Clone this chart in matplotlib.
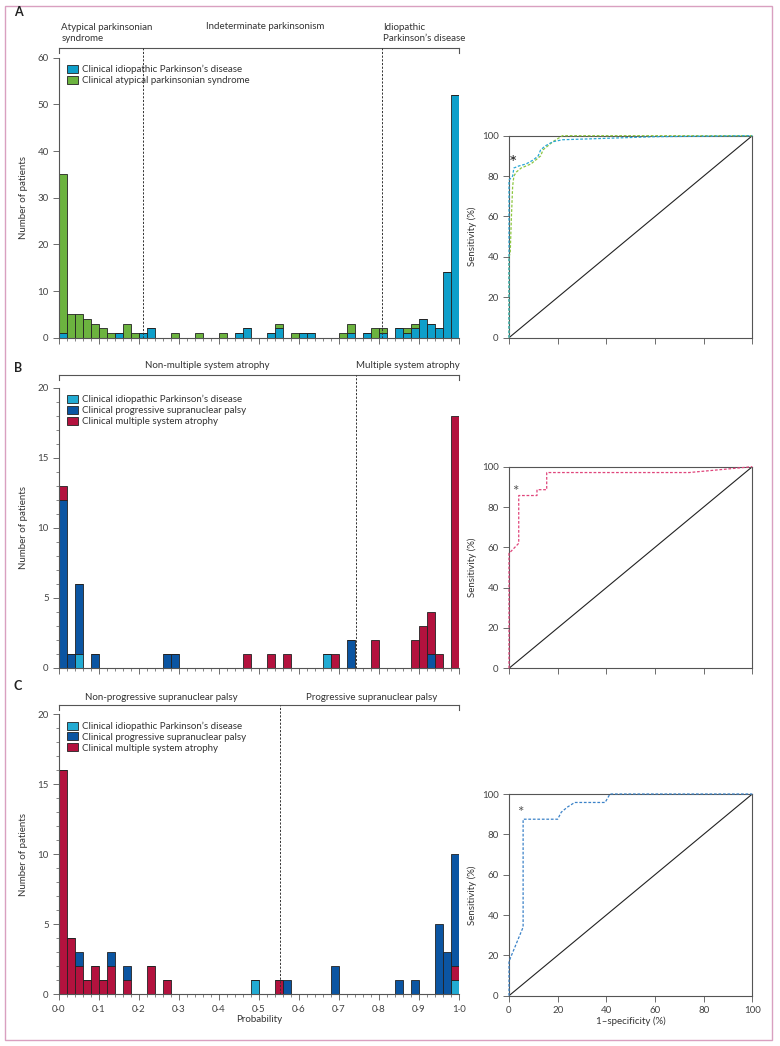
import numpy as np
import matplotlib
matplotlib.use("Agg")
import matplotlib.pyplot as plt
from matplotlib.patches import Patch, Rectangle

plt.rcParams['font.family'] = ['Lato', 'DejaVu Sans']
plt.rcParams['font.size'] = 6.5
plt.rcParams['text.color'] = '#333333'

# ---- histogram data: 50 bins of width 0.02 over the probability 0..1 ----
bin_edges = np.linspace(0, 1, 51)

# panel A: idiopathic PD vs atypical parkinsonian syndrome
a_pd = [1, 0, 0, 0, 0, 0, 0, 1, 0, 0, 1, 2, 0, 0, 0, 0, 0, 0, 0, 0,
        0, 0, 1, 2, 0, 0, 1, 2, 0, 0, 1, 1, 0, 0, 0, 0, 1, 0, 1, 0,
        1, 0, 2, 1, 2, 4, 3, 2, 14, 52]
a_aps = [34, 5, 5, 4, 3, 2, 1, 0, 3, 1, 0, 0, 0, 0, 1, 0, 0, 1, 0, 0,
         1, 0, 0, 0, 0, 0, 0, 1, 0, 1, 0, 0, 0, 0, 0, 1, 2, 0, 0, 2,
         1, 0, 0, 1, 1, 0, 0, 0, 0, 0]

# panel B: multiple system atrophy classifier
b_pd = [0, 0, 1, 0, 0, 0, 0, 0, 0, 0, 0, 0, 0, 0, 0, 0, 0, 0, 0, 0,
        0, 0, 0, 0, 0, 0, 0, 0, 0, 0, 0, 0, 0, 1, 0, 0, 0, 0, 0, 0,
        0, 0, 0, 0, 0, 0, 0, 0, 0, 0]
b_psp = [12, 1, 5, 0, 1, 0, 0, 0, 0, 0, 0, 0, 0, 1, 1, 0, 0, 0, 0, 0,
         0, 0, 0, 0, 0, 0, 0, 0, 0, 0, 0, 0, 0, 0, 0, 0, 2, 0, 0, 0,
         0, 0, 0, 0, 0, 0, 1, 0, 0, 0]
b_msa = [1, 0, 0, 0, 0, 0, 0, 0, 0, 0, 0, 0, 0, 0, 0, 0, 0, 0, 0, 0,
         0, 0, 0, 1, 0, 0, 1, 0, 1, 0, 0, 0, 0, 0, 1, 0, 0, 0, 0, 2,
         0, 0, 0, 0, 2, 3, 3, 1, 0, 18]

# panel C: progressive supranuclear palsy classifier
c_pd = [0, 0, 0, 0, 0, 0, 0, 0, 0, 0, 0, 0, 0, 0, 0, 0, 0, 0, 0, 0,
        0, 0, 0, 0, 1, 0, 0, 0, 0, 0, 0, 0, 0, 0, 0, 0, 0, 0, 0, 0,
        0, 0, 0, 0, 0, 0, 0, 0, 0, 1]
c_msa = [16, 4, 2, 1, 2, 1, 2, 0, 1, 0, 0, 2, 0, 1, 0, 0, 0, 0, 0, 0,
         0, 0, 0, 0, 0, 0, 0, 1, 0, 0, 0, 0, 0, 0, 0, 0, 0, 0, 0, 0,
         0, 0, 0, 0, 0, 0, 0, 0, 0, 1]
c_psp = [0, 0, 1, 0, 0, 0, 1, 0, 1, 0, 0, 0, 0, 0, 0, 0, 0, 0, 0, 0,
         0, 0, 0, 0, 0, 0, 0, 0, 1, 0, 0, 0, 0, 0, 2, 0, 0, 0, 0, 0,
         0, 0, 1, 0, 1, 0, 0, 5, 3, 8]

# ---- ROC curves (1-specificity %, sensitivity %) ----
roc_a1_x = [0, 0, 0.5, 1, 1.5, 2, 3, 5, 7, 9, 11, 13, 14, 16, 18, 22, 100]
roc_a1_y = [0, 40, 42, 60, 75, 80, 82, 84, 85, 86, 88, 90, 93, 95, 97, 100, 100]
roc_a2_x = [0, 0, 1.5, 2, 4, 7, 10, 12, 13, 15, 18, 22, 60, 100]
roc_a2_y = [0, 78, 80, 84, 85, 86, 88, 90, 93, 95, 97, 98, 99.5, 100]
roc_b_x = [0, 0, 4, 4, 11.5, 11.5, 15.5, 15.5, 74, 100]
roc_b_y = [0, 57, 62, 85.7, 85.7, 88.6, 88.6, 97.1, 97.1, 100]
roc_c_x = [0, 0, 5.8, 5.8, 20, 21.5, 24, 27, 39.5, 41.5, 100]
roc_c_y = [0, 17, 34, 87.5, 87.5, 91, 93.5, 95.8, 95.8, 100, 100]
star_a = (1.5, 86)
star_b = (2.7, 87.6)
star_c = (4.8, 90.4)

# colours
col_pd_a = '#0e9fca'
col_pd_bc = '#22abd3'
col_aps = '#6cb33f'
col_psp = '#0b55a2'
col_msa = '#b3123e'
grey = '#555555'

W, H = 780, 1046
fig = plt.figure(figsize=(W / 100, H / 100), dpi=100)


def add_ax(l, t, r, b):
    return fig.add_axes([l / W, 1 - b / H, (r - l) / W, (b - t) / H])


def style(ax):
    for s in ax.spines.values():
        s.set_color(grey)
        s.set_linewidth(0.8)
    ax.tick_params(which='major', length=4, width=0.6, color=grey,
                   labelcolor='#444444', labelsize=7)
    ax.tick_params(which='minor', length=2, width=0.5, color=grey)


def hist_panel(box, stacks, ymax, ystep, minor, brackets, dashes, headers,
               legend_items, xlabels=False):
    l, t, r, b = box
    ax = add_ax(l, t, r, b)
    style(ax)
    ax.spines['top'].set_visible(False)
    ax.spines['right'].set_visible(False)
    width = np.diff(bin_edges)
    bottom = np.zeros(50)
    for vals, col in stacks:
        vals = np.array(vals, dtype=float)
        ax.bar(bin_edges[:-1], vals, width=width, bottom=bottom, align='edge',
               color=col, edgecolor='#222222', linewidth=0.6)
        bottom += vals
    ax.set_xlim(0, 1)
    ax.set_ylim(0, ymax)
    ax.set_yticks(np.arange(0, ymax + 1, ystep))
    if minor:
        ax.set_yticks(np.arange(0, ymax + 1, 1), minor=True)
    ax.set_xticks(np.arange(0, 1.01, 0.1))
    ax.set_xticks(np.arange(0, 1.001, 0.02), minor=True)
    if xlabels:
        ax.set_xticklabels([f"{v:.1f}".replace('.', '\u00b7') for v in np.arange(0, 1.01, 0.1)])
        ax.set_xlabel('Probability', fontsize=7, labelpad=1, color='#333333')
    else:
        ax.set_xticklabels([])
    ax.set_ylabel('Number of patients', fontsize=7, color='#333333')
    ax.yaxis.set_label_coords((28 - l) / (r - l), 0.5)

    hpx = b - t
    yb = 1 + (t - brackets) / hpx
    tick = 5 / hpx
    ax.plot([0, 1], [yb, yb], transform=ax.transAxes, color=grey, lw=0.8,
            clip_on=False)
    for xe in (0, 1):
        ax.plot([xe, xe], [yb, yb - tick], transform=ax.transAxes, color=grey,
                lw=0.8, clip_on=False)
    for xd in dashes:
        ax.plot([xd, xd], [0, yb], transform=ax.transAxes, color='#333333',
                lw=0.7, ls=(0, (2.2, 1.6)), clip_on=False)
    for x, ypx, txt, ha in headers:
        ax.text(x, 1 + (t - ypx) / hpx, txt, transform=ax.transAxes, ha=ha,
                va='center', fontsize=7, color='#333333', linespacing=1.25)
    handles = [Patch(facecolor=c, edgecolor='#222222', linewidth=0.6, label=n)
               for n, c in legend_items]
    ax.legend(handles=handles, loc='upper left', bbox_to_anchor=(0.005, 0.995),
              frameon=False, fontsize=7, handlelength=1.1, handleheight=0.9,
              handletextpad=0.5, labelspacing=0.15, borderaxespad=0.2,
              labelcolor='#333333')
    return ax


def roc_panel(box, curves, star, xlabels=False, star_size=11, star_col='#555555'):
    l, t, r, b = box
    ax = add_ax(l, t, r, b)
    style(ax)
    ax.plot([0, 100], [0, 100], color='#222222', lw=0.8)
    for xs, ys, col in curves:
        ax.plot(xs, ys, color=col, lw=0.9, ls=(0, (2.2, 1.4)), clip_on=False,
                zorder=3)
    ax.text(star[0], star[1], '*', ha='center', va='center', fontsize=star_size,
            color=star_col)
    ax.set_xlim(0, 100)
    ax.set_ylim(0, 100)
    ax.set_xticks(range(0, 101, 20))
    ax.set_yticks(range(0, 101, 20))
    if xlabels:
        ax.set_xlabel('1\u2013specificity (%)', fontsize=7, labelpad=1, color='#333333')
    else:
        ax.set_xticklabels([])
    ax.set_ylabel('Sensitivity (%)', fontsize=7, color='#333333')
    ax.yaxis.set_label_coords((477 - l) / (r - l), 0.5)
    return ax


# panel A
hist_panel((59, 57.7, 459, 337.7), [(a_pd, col_pd_a), (a_aps, col_aps)], 60, 10, False,
           48, [0.211, 0.808],
           [(0.006, 33, 'Atypical parkinsonian\nsyndrome', 'left'),
            (0.515, 26.5, 'Indeterminate parkinsonism', 'center'),
            (0.811, 33, 'Idiopathic\nParkinson\u2019s disease', 'left')],
           [('Clinical idiopathic Parkinson\u2019s disease', col_pd_a),
            ('Clinical atypical parkinsonian syndrome', col_aps)])
roc_panel((509, 135.7, 752.3, 337.7),
          [(roc_a1_x, roc_a1_y, '#8dc63f'), (roc_a2_x, roc_a2_y, '#2aa7d4')],
          star_a, star_size=14, star_col='#222222')

# panel B
hist_panel((59, 387.7, 459, 667.7), [(b_pd, col_pd_bc), (b_psp, col_psp), (b_msa, col_msa)],
           20, 5, True, 375, [0.7425],
           [(0.37, 366, 'Non-multiple system atrophy', 'center'),
            (0.871, 366, 'Multiple system atrophy', 'center')],
           [('Clinical idiopathic Parkinson\u2019s disease', col_pd_bc),
            ('Clinical progressive supranuclear palsy', col_psp),
            ('Clinical multiple system atrophy', col_msa)])
roc_panel((509, 466.7, 752.3, 668.3), [(roc_b_x, roc_b_y, '#e0457b')], star_b)

# panel C
hist_panel((59, 714.3, 459, 994.3), [(c_pd, col_pd_bc), (c_msa, col_msa), (c_psp, col_psp)],
           20, 5, True, 705, [0.5525],
           [(0.256, 697, 'Non-progressive supranuclear palsy', 'center'),
            (0.782, 697, 'Progressive supranuclear palsy', 'center')],
           [('Clinical idiopathic Parkinson\u2019s disease', col_pd_bc),
            ('Clinical progressive supranuclear palsy', col_psp),
            ('Clinical multiple system atrophy', col_msa)], xlabels=True)
roc_panel((509, 794, 752.3, 995.7), [(roc_c_x, roc_c_y, '#3b82c8')], star_c, xlabels=True)

# panel letters
for letter, ypx in (('A', 12), ('B', 368), ('C', 686)):
    fig.text(14 / W, 1 - ypx / H, letter, fontsize=9, fontweight='bold',
             va='center', ha='left', color='#222222')

# pink frame
fig.add_artist(Rectangle((5 / W, 1 - 1040 / H), 767 / W, 1034 / H,
                         transform=fig.transFigure, fill=False,
                         edgecolor='#d9a0c0', linewidth=1))

fig.savefig('out.png', dpi=100)
